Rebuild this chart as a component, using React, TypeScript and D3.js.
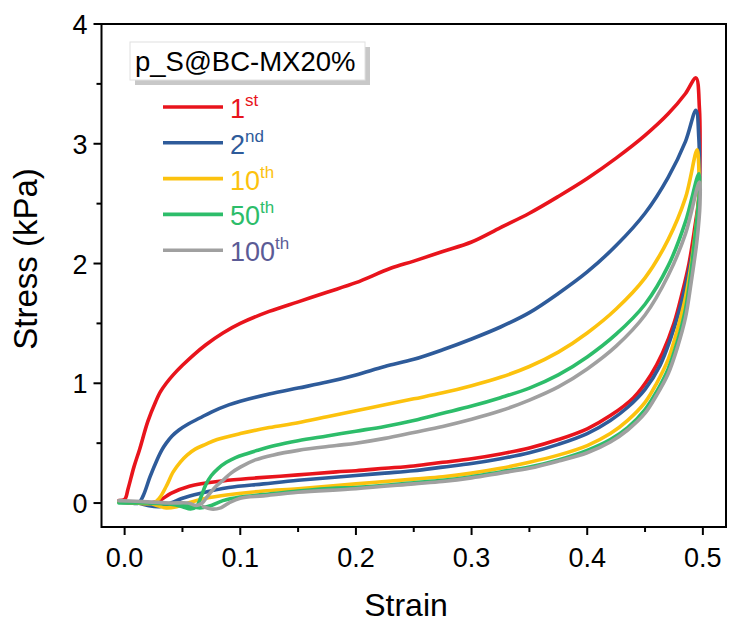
import React from "react";
import * as d3 from "d3";

type P = [number, number];

const redCycle: P[] = [
  [-0.005, 0.02], [0.0, 0.03], [0.003, 0.12], [0.008, 0.3], [0.013, 0.45], [0.02, 0.68], [0.027, 0.85],
  [0.031, 0.93], [0.036, 1.0], [0.042, 1.07], [0.05, 1.15], [0.06, 1.24], [0.07, 1.32], [0.085, 1.42],
  [0.1, 1.5], [0.125, 1.6], [0.15, 1.68], [0.175, 1.76], [0.2, 1.84], [0.23, 1.96], [0.25, 2.02],
  [0.275, 2.1], [0.3, 2.18], [0.325, 2.3], [0.35, 2.42], [0.375, 2.56], [0.4, 2.71], [0.425, 2.88],
  [0.45, 3.07], [0.47, 3.25], [0.485, 3.42], [0.494, 3.55],
  [0.497, 3.3], [0.4975, 2.9], [0.4965, 2.55], [0.493, 2.3], [0.488, 2.0], [0.482, 1.75], [0.475, 1.5],
  [0.465, 1.25], [0.455, 1.07], [0.44, 0.88], [0.42, 0.73], [0.4, 0.62], [0.375, 0.53], [0.35, 0.46],
  [0.325, 0.41], [0.3, 0.37], [0.275, 0.34], [0.25, 0.31], [0.225, 0.29], [0.2, 0.27], [0.183, 0.26],
  [0.15, 0.235], [0.114, 0.21], [0.085, 0.185], [0.056, 0.14], [0.04, 0.08], [0.03, 0.02], [0.022, 0.0],
];

const blueCycle: P[] = [
  [-0.005, 0.01], [0.005, 0.0], [0.012, 0.0], [0.016, 0.06], [0.022, 0.22], [0.028, 0.36], [0.032, 0.44],
  [0.036, 0.5], [0.041, 0.56], [0.047, 0.61], [0.055, 0.66], [0.065, 0.71], [0.075, 0.76], [0.09, 0.82],
  [0.1, 0.85], [0.125, 0.91], [0.15, 0.96], [0.175, 1.01], [0.2, 1.07], [0.225, 1.14], [0.25, 1.2],
  [0.275, 1.28], [0.3, 1.37], [0.325, 1.47], [0.35, 1.59], [0.375, 1.75], [0.4, 1.93], [0.425, 2.15],
  [0.45, 2.42], [0.47, 2.72], [0.485, 3.02], [0.494, 3.28],
  [0.4965, 3.05], [0.497, 2.7], [0.4955, 2.4], [0.492, 2.15], [0.487, 1.9], [0.48, 1.62], [0.472, 1.37],
  [0.463, 1.15], [0.45, 0.95], [0.435, 0.8], [0.42, 0.69], [0.4, 0.58], [0.375, 0.49], [0.35, 0.42],
  [0.325, 0.37], [0.3, 0.33], [0.275, 0.3], [0.25, 0.27], [0.225, 0.25], [0.2, 0.23], [0.15, 0.19],
  [0.12, 0.16], [0.09, 0.13], [0.065, 0.08], [0.05, 0.04], [0.04, 0.0], [0.03, -0.03], [0.02, -0.02],
  [0.012, 0.0],
];

const yellowCycle: P[] = [
  [-0.005, 0.01], [0.01, 0.0], [0.025, 0.0], [0.03, 0.04], [0.036, 0.14], [0.042, 0.26], [0.048, 0.34],
  [0.054, 0.4], [0.061, 0.45], [0.07, 0.49], [0.08, 0.53], [0.1, 0.58], [0.125, 0.63], [0.15, 0.67],
  [0.175, 0.72], [0.2, 0.77], [0.225, 0.82], [0.25, 0.87], [0.275, 0.92], [0.3, 0.98], [0.325, 1.05],
  [0.35, 1.14], [0.375, 1.26], [0.4, 1.42], [0.425, 1.62], [0.45, 1.88], [0.47, 2.2], [0.485, 2.55],
  [0.495, 2.95],
  [0.4965, 2.8], [0.4965, 2.55], [0.494, 2.3], [0.49, 2.0], [0.485, 1.72], [0.478, 1.45], [0.47, 1.2],
  [0.46, 1.0], [0.45, 0.84], [0.435, 0.69], [0.42, 0.58], [0.4, 0.48], [0.375, 0.4], [0.35, 0.34],
  [0.325, 0.29], [0.3, 0.25], [0.275, 0.22], [0.25, 0.2], [0.2, 0.16], [0.15, 0.12], [0.12, 0.1],
  [0.09, 0.07], [0.07, 0.04], [0.055, 0.0], [0.045, -0.03], [0.036, -0.04], [0.028, -0.02], [0.022, 0.0],
];

const greenCycle: P[] = [
  [-0.005, 0.0], [0.02, 0.0], [0.04, -0.01], [0.05, -0.03], [0.057, -0.05], [0.062, -0.03], [0.066, 0.05],
  [0.07, 0.15], [0.075, 0.23], [0.081, 0.29], [0.088, 0.34], [0.096, 0.38], [0.105, 0.41], [0.115, 0.44],
  [0.13, 0.48], [0.15, 0.52], [0.175, 0.56], [0.2, 0.6], [0.225, 0.64], [0.25, 0.69], [0.275, 0.75],
  [0.3, 0.81], [0.325, 0.88], [0.35, 0.96], [0.375, 1.07], [0.4, 1.22], [0.425, 1.41], [0.45, 1.66],
  [0.47, 1.98], [0.485, 2.35], [0.4965, 2.75],
  [0.497, 2.6], [0.494, 2.3], [0.49, 1.95], [0.485, 1.62], [0.478, 1.35], [0.47, 1.12], [0.46, 0.93],
  [0.45, 0.78], [0.435, 0.63], [0.42, 0.53], [0.4, 0.44], [0.375, 0.36], [0.35, 0.3], [0.325, 0.26],
  [0.3, 0.22], [0.275, 0.19], [0.25, 0.17], [0.2, 0.13], [0.183, 0.125], [0.15, 0.1], [0.12, 0.07],
  [0.1, 0.05], [0.085, 0.02], [0.075, -0.02], [0.065, -0.04], [0.055, -0.02], [0.045, 0.0],
];

const grayCycle: P[] = [
  [-0.005, 0.02], [0.02, 0.01], [0.04, 0.0], [0.055, 0.0], [0.062, -0.02], [0.067, 0.0], [0.072, 0.06],
  [0.078, 0.13], [0.085, 0.19], [0.092, 0.25], [0.1, 0.3], [0.113, 0.36], [0.128, 0.4], [0.15, 0.44],
  [0.183, 0.48], [0.2, 0.5], [0.225, 0.54], [0.25, 0.59], [0.275, 0.64], [0.3, 0.7], [0.325, 0.77],
  [0.35, 0.86], [0.375, 0.97], [0.4, 1.12], [0.425, 1.31], [0.45, 1.57], [0.47, 1.9], [0.485, 2.25],
  [0.497, 2.68],
  [0.4975, 2.5], [0.495, 2.2], [0.49, 1.85], [0.485, 1.55], [0.478, 1.3], [0.47, 1.08], [0.46, 0.9],
  [0.45, 0.75], [0.435, 0.61], [0.42, 0.51], [0.4, 0.42], [0.375, 0.35], [0.35, 0.29], [0.325, 0.25],
  [0.3, 0.21], [0.275, 0.18], [0.25, 0.16], [0.2, 0.12], [0.15, 0.09], [0.12, 0.06], [0.1, 0.04],
  [0.09, 0.0], [0.083, -0.04], [0.075, -0.05], [0.068, -0.03],
];

const seriesNames = ["1", "2", "10", "50", "100"];
const seriesSup = ["st", "nd", "th", "th", "th"];
const seriesData = [redCycle, blueCycle, yellowCycle, greenCycle, grayCycle];
const seriesColors = ["#e8141c", "#2e5b9a", "#fcc20e", "#2dbd6a", "#a0a0a0"];
const labelColors = ["#e8141c", "#2e5b9a", "#fcc20e", "#2dbd6a", "#5b5b96"];

const xTicks = [0, 0.1, 0.2, 0.3, 0.4, 0.5];
const xMinor = [0.05, 0.15, 0.25, 0.35, 0.45];
const yTicks = [0, 1, 2, 3, 4];
const yMinor = [0.5, 1.5, 2.5, 3.5];
const legendTitle = "p_S@BC-MX20%";

const W = 730;
const H = 626;
const L = 101.5, R = 726, T = 24, B = 527;

export default function App() {
  const x = d3.scaleLinear().domain([-0.02, 0.52]).range([L, R]);
  const y = d3.scaleLinear().domain([-0.2, 4]).range([B, T]);
  const line = d3
    .line<P>()
    .x((d) => x(d[0]))
    .y((d) => y(d[1]))
    .curve(d3.curveCatmullRom.alpha(0.5));
  const font = "Arial, 'Liberation Sans', sans-serif";

  return (
    <svg width={W} height={H} style={{ position: "absolute", left: 0, top: 0 }} fontFamily={font}>
      <rect x={0} y={0} width={W} height={H} fill="#ffffff" />
      {seriesData.map((d, i) => (
        <path key={i} d={line(d) || ""} fill="none" stroke={seriesColors[i]} strokeWidth={3.6}
          strokeLinejoin="round" strokeLinecap="round" />
      ))}
      <rect x={L} y={T} width={R - L} height={B - T} fill="none" stroke="#000" strokeWidth={2} />
      {xTicks.map((t) => (
        <g key={"x" + t}>
          <line x1={x(t)} x2={x(t)} y1={B} y2={B + 8} stroke="#000" strokeWidth={2} />
          <text x={x(t)} y={B + 40} fontSize={27} textAnchor="middle" fill="#000">{t.toFixed(1)}</text>
        </g>
      ))}
      {xMinor.map((t) => (
        <line key={"xm" + t} x1={x(t)} x2={x(t)} y1={B} y2={B + 5} stroke="#000" strokeWidth={2} />
      ))}
      {yTicks.map((t) => (
        <g key={"y" + t}>
          <line x1={L - 8} x2={L} y1={y(t)} y2={y(t)} stroke="#000" strokeWidth={2} />
          <text x={L - 14} y={y(t) + 10} fontSize={27} textAnchor="end" fill="#000">{t}</text>
        </g>
      ))}
      {yMinor.map((t) => (
        <line key={"ym" + t} x1={L - 5} x2={L} y1={y(t)} y2={y(t)} stroke="#000" strokeWidth={2} />
      ))}
      <text x={406} y={616} fontSize={32} textAnchor="middle" fill="#000">Strain</text>
      <text transform={`translate(37, 259) rotate(-90)`} fontSize={33} textAnchor="middle" fill="#000">
        Stress (kPa)
      </text>
      <rect x={135} y={47} width={235} height={38} fill="#c8c8c8" />
      <rect x={130} y={42} width={235} height={38} fill="#fff" stroke="#e0e0e0" strokeWidth={1} />
      <text x={135} y={71} fontSize={27.5} fill="#000">{legendTitle}</text>
      {seriesNames.map((n, i) => {
        const ly = 107 + i * 35.8;
        return (
          <g key={"lg" + i}>
            <line x1={163} x2={223} y1={ly} y2={ly} stroke={seriesColors[i]} strokeWidth={3.6} />
            <text x={230} y={ly + 11} fontSize={27} fill={labelColors[i]}>
              {n}
              <tspan fontSize={17} dy={-12}>{seriesSup[i]}</tspan>
            </text>
          </g>
        );
      })}
    </svg>
  );
}
